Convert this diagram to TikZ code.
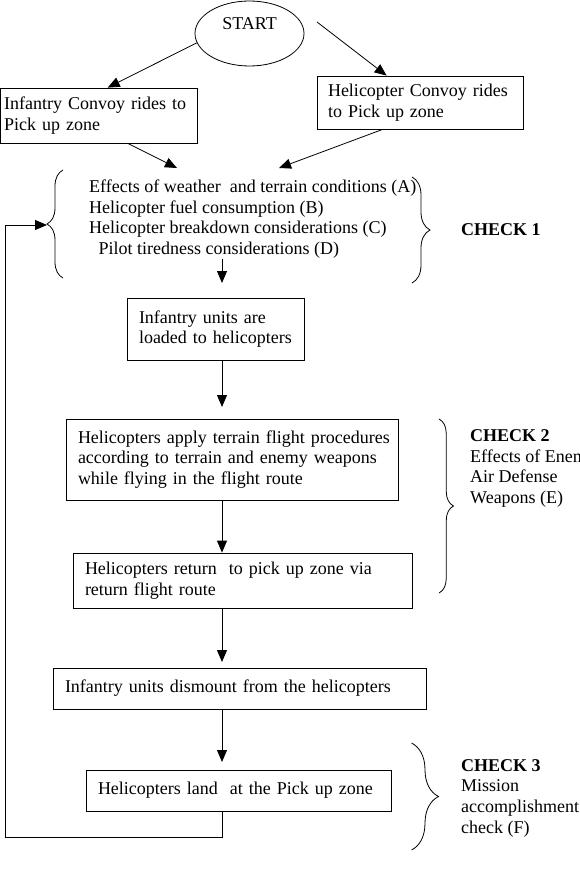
\documentclass[tikz,border=0pt]{standalone}
\usepackage{fontspec}
\setmainfont{Liberation Serif}
\usetikzlibrary{arrows.meta,shapes.geometric,decorations.pathreplacing,calc}
\begin{document}
\begin{tikzpicture}[x=1pt,y=-1pt,
  every node/.style={font=\fontsize{18}{20.7}\selectfont},
  box/.style={draw=black,line width=0.8pt,rectangle,align=left,inner xsep=12pt,inner ysep=0pt},
  arr/.style={line width=0.8pt,-{Triangle[length=12pt,width=10pt]}},
  brc/.style={line width=0.8pt,decorate,decoration={brace,amplitude=#1}},
  lbl/.style={anchor=west,align=left,inner sep=0pt}]
\useasboundingbox (0,0) rectangle (580,885);
\clip (0,0) rectangle (580,885);

% nodes
\node[draw,ellipse,line width=0.8pt,minimum width=109pt,minimum height=65pt,inner sep=0pt] (start) at (249.5,33.5) {\raisebox{3.5pt}[0pt][0pt]{START}};
\node[box,inner xsep=3.5pt,text width=189.4pt,minimum height=55pt] (inf) at (98.8,115.5) {Infantry Convoy rides to\\Pick up zone};
\node[box,inner xsep=11pt,text width=184pt,minimum height=53pt] (hc) at (420,102.5) {Helicopter Convoy rides\\to Pick up zone};
\node[lbl] (c1) at (89,219) {Effects of weather~ and terrain conditions (A)\\Helicopter fuel consumption (B)\\Helicopter breakdown considerations (C)\\\hspace*{9.5pt}Pilot tiredness considerations (D)};
\node[box,inner xsep=11.5pt,text width=153.5pt,minimum height=62pt] (loaded) at (215.75,329) {\mbox{Infantry units are}\\\mbox{loaded to helicopters}};
\node[box,text width=308.5pt,minimum height=81pt] (apply) at (232.25,459.5) {\mbox{Helicopters apply terrain flight procedures}\\\mbox{according to terrain and enemy weapons}\\\mbox{while flying in the flight route}};
\node[box,text width=315pt,minimum height=55pt] (ret) at (242.5,580.5) {\mbox{Helicopters return~ to pick up zone via}\\return flight route};
\node[box,text width=349pt,minimum height=41pt] (dis) at (239.5,688.5) {\mbox{Infantry units dismount from the helicopters}};
\node[box,text width=281.5pt,minimum height=41pt] (land) at (238.75,790.5) {\mbox{Helicopters land~ at the Pick up zone}};

\node[lbl] (k1) at (461,230) {\textbf{CHECK 1}};
\node[lbl] (k2) at (470,468.5) {\textbf{CHECK 2}\\Effects of Enemy\\Air Defense\\Weapons (E)};
\node[lbl] (k3) at (461,798) {\textbf{CHECK 3}\\Mission\\accomplishment\\check (F)};

% coordinates
\coordinate (sR) at (317,22);
\coordinate (t1) at (177,168);
\coordinate (t2) at (279,168);
\coordinate (vx) at (222,0);
\coordinate (t3) at (222,283);
\coordinate (t4) at (222,407);
\coordinate (t5) at (222,662);
\coordinate (t6) at (222,762);
\coordinate (fb1) at (222,837);
\coordinate (fb2) at (5,837);
\coordinate (fbT) at (47,225);

% connectors
\draw[arr] (start.190) -- ($(inf.north west)+(107.5,0)$);
\draw[arr] (sR) -- ($(hc.north west)+(70,0)$);
\draw[arr] ($(inf.south west)+(127.5,0)$) -- (t1);
\draw[arr] ($(hc.south west)+(66,0)$) -- (t2);
\draw[arr] (c1.south -| vx) -- (t3);
\draw[arr] (loaded.south -| vx) -- (t4);
\draw[arr] (apply.south -| vx) -- (ret.north -| vx);
\draw[arr] (ret.south -| vx) -- (t5);
\draw[arr] (dis.south -| vx) -- (t6);
\draw[arr] (land.south -| vx) -- (fb1) -- (fb2) -- (fbT -| fb2) -- (fbT);

% braces
\draw[brc=16] (63,278) -- (63,170);
\draw[brc=18] (412,177) -- (412,283);
\draw[brc=14.5] (439,419) -- (439,593);
\draw[brc=27] (411.5,743) -- (411.5,850);
\end{tikzpicture}
\end{document}
